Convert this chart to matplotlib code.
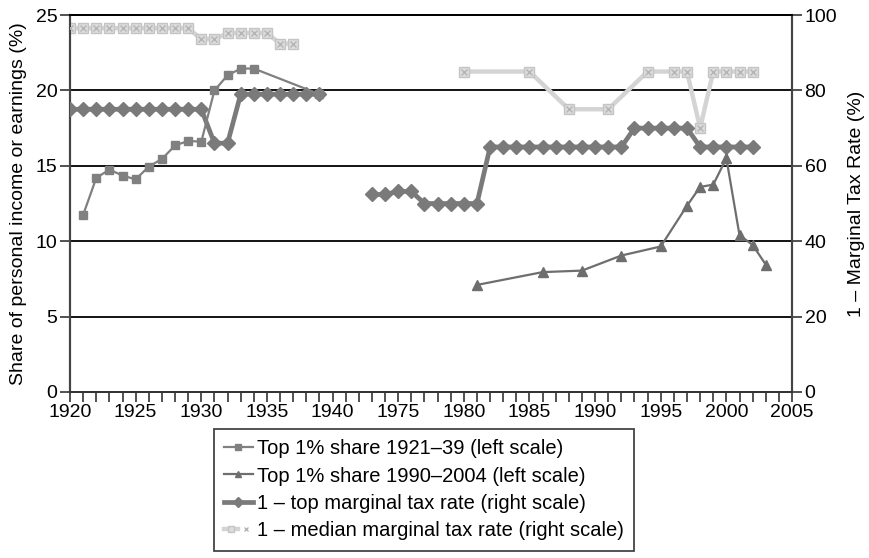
import matplotlib
matplotlib.use("Agg")
import matplotlib.pyplot as plt
from matplotlib.legend_handler import HandlerTuple

plt.rcParams["font.family"] = ["Liberation Sans", "DejaVu Sans"]
plt.rcParams["font.size"] = 14

# =========================
# DATA
# =========================
share_early_years = [1921, 1922, 1923, 1924, 1925, 1926, 1927, 1928, 1929, 1930,
                     1931, 1932, 1933, 1934, 1939]
share_early = [11.75, 14.2, 14.75, 14.35, 14.1, 14.95, 15.45, 16.35, 16.65, 16.6,
               20.0, 21.0, 21.45, 21.45, 19.75]

share_late_years = [1981, 1986, 1989, 1992, 1995, 1997, 1998, 1999, 2000, 2001, 2002, 2003]
share_late = [7.1, 7.95, 8.05, 9.05, 9.65, 12.35, 13.6, 13.75, 15.5, 10.4, 9.75, 8.45]

top_years_a = list(range(1920, 1940))
top_rate_a = [75] * 11 + [66, 66] + [79] * 7
top_years_b = list(range(1973, 2003))
top_rate_b = [52.4, 52.4, 53.2, 53.2] + [50] * 5 + [65] * 11 + [70] * 5 + [65] * 5

med_years_a = list(range(1920, 1938))
med_rate_a = [96.5] * 10 + [93.6, 93.6] + [95.2] * 4 + [92.4, 92.4]
med_years_b = [1980, 1985, 1988, 1991, 1994, 1996, 1997, 1998, 1999, 2000, 2001, 2002]
med_rate_b = [85, 85, 75, 75, 85, 85, 85, 70, 85, 85, 85, 85]

tick_years = [1920, 1925, 1930, 1935, 1940, 1975, 1980, 1985, 1990, 1995, 2000, 2005]


# broken year axis: 1920-1940 then 1971-2005
def pos(years):
    return [y - 1920 if y <= 1940 else y - 1950 for y in years]


# =========================
# PLOT
# =========================
fig = plt.figure(figsize=(8.69, 5.58), dpi=100)
ax = fig.add_axes([0.0806, 0.2975, 0.8308, 0.6756])
ax2 = ax.twinx()

dark = "#7a7a7a"
light = "#d4d4d4"

# right scale series (drawn under the left ones)
m1, = ax2.plot(pos(med_years_a), med_rate_a, color=light, lw=3.2, marker="s", ms=7,
               mfc="#dcdcdc", mec="#c4c4c4", zorder=2)
ax2.plot(pos(med_years_b), med_rate_b, color=light, lw=3.2, marker="s", ms=7,
         mfc="#dcdcdc", mec="#c4c4c4", zorder=2)
m2, = ax2.plot(pos(med_years_a), med_rate_a, ls="none", marker="x", ms=5,
               mew=1.0, color="#b4b4b4", zorder=3)
ax2.plot(pos(med_years_b), med_rate_b, ls="none", marker="x", ms=5,
         mew=1.0, color="#b4b4b4", zorder=3)

t1, = ax2.plot(pos(top_years_a), top_rate_a, color=dark, lw=3.4, marker="D", ms=7,
               zorder=4)
ax2.plot(pos(top_years_b), top_rate_b, color=dark, lw=3.4, marker="D", ms=7, zorder=4)

# left scale series (plotted on the right axis, left value x4)
s1, = ax2.plot(pos(share_early_years), [v * 4 for v in share_early], color="#808080",
               lw=1.6, marker="s", ms=6, zorder=5)
s2, = ax2.plot(pos(share_late_years), [v * 4 for v in share_late], color="#6e6e6e",
               lw=1.6, marker="^", ms=6.5, zorder=5)

# axes
ax.set_xlim(0, 55)
ax.set_ylim(0, 25)
ax2.set_ylim(0, 100)
ax.set_yticks([0, 5, 10, 15, 20, 25])
ax2.set_yticks([0, 20, 40, 60, 80, 100])
ax.set_xticks(pos(tick_years))
ax.set_xticklabels([str(y) for y in tick_years])
ax.set_xticks(range(0, 56), minor=True)

for y in [5, 10, 15, 20]:
    ax.axhline(y, color="black", lw=1.3, zorder=0)

ax.set_ylabel("Share of personal income or earnings (%)", labelpad=6)
ax2.set_ylabel("1 \u2013 Marginal Tax Rate (%)", labelpad=8)

ax.tick_params(axis="x", which="both", length=7, width=1.2, color="#333333", pad=2)
ax.tick_params(axis="y", length=7, width=1.2, color="#333333", pad=2)
ax2.tick_params(axis="y", length=7, width=1.2, color="#333333", pad=2)

for a in (ax, ax2):
    a.spines["top"].set_color("black")
    a.spines["top"].set_linewidth(1.3)
    a.spines["left"].set_color("#444444")
    a.spines["left"].set_linewidth(1.5)
    a.spines["right"].set_color("#444444")
    a.spines["right"].set_linewidth(1.5)
    a.spines["bottom"].set_color("#333333")
    a.spines["bottom"].set_linewidth(1.3)

leg = ax2.legend([s1, s2, t1, (m1, m2)],
                 ["Top 1% share 1921\u201339 (left scale)",
                  "Top 1% share 1990\u20132004 (left scale)",
                  "1 \u2013 top marginal tax rate (right scale)",
                  "1 \u2013 median marginal tax rate (right scale)"],
                 handler_map={tuple: HandlerTuple(ndivide=None, pad=0)},
                 loc="upper left", bbox_to_anchor=(0.246, 0.2312),
                 bbox_transform=fig.transFigure, borderaxespad=0,
                 fancybox=False, edgecolor="#444444", framealpha=1,
                 fontsize=14.5, handlelength=1.45, handletextpad=0.2,
                 labelspacing=0.42, borderpad=0.5, markerscale=0.7)
leg.get_frame().set_linewidth(1.3)

fig.savefig("out.png", dpi=100)
